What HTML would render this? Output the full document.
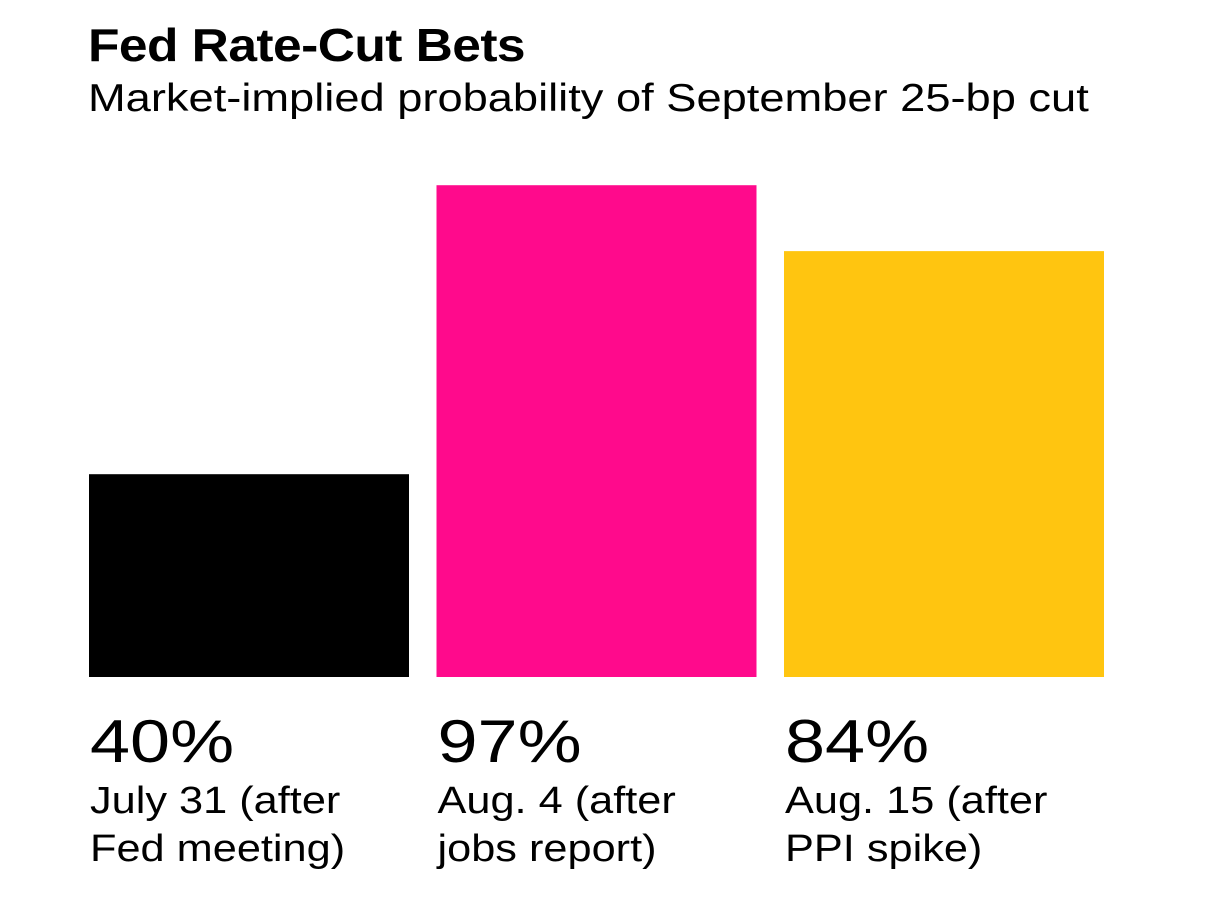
<!DOCTYPE html>
<html><head><meta charset="utf-8"><style>
html,body{margin:0;padding:0;background:#fff;}
body{width:1206px;height:913px;position:relative;overflow:hidden;font-family:"Liberation Sans",Arial,sans-serif;color:#000;}
.t{position:absolute;white-space:nowrap;transform-origin:0 0;}
</style></head><body>
<div class="t" style="left:88px;top:18px;font-size:46px;font-weight:bold;letter-spacing:-0.5px;transform:scaleX(1.12);">Fed Rate-Cut Bets</div>
<div class="t" style="left:88px;top:77px;font-size:39px;transform:scaleX(1.16);">Market-implied probability of September 25-bp cut</div>
<svg id="chart" width="1206" height="913" style="position:absolute;left:0;top:0;"></svg>
<script>
const categories1=["July 31 (after","Aug. 4 (after","Aug. 15 (after"];
const categories2=["Fed meeting)","jobs report)","PPI spike)"];
const values=[40,97,84];
const colors=["#000000","#FF0A8C","#FFC510"];
const svg=document.getElementById('chart');
const NS="http://www.w3.org/2000/svg";
const baseY=677, scaleH=507, x0=89, barW=320, step=347.5;
function y(v){return baseY-v/100*scaleH;}
function x(i){return x0+i*step;}
values.forEach((v,i)=>{
  const r=document.createElementNS(NS,'rect');
  r.setAttribute('x',x(i));r.setAttribute('y',y(v));
  r.setAttribute('width',barW);r.setAttribute('height',baseY-y(v));
  r.setAttribute('fill',colors[i]);
  
  
  svg.appendChild(r);
  const mk=(txt,yy,fs,sx,name)=>{
    const t=document.createElementNS(NS,'text');
    const tx=x(i)+1;
    t.setAttribute('x',0);t.setAttribute('y',0);
    t.setAttribute('transform','translate('+tx+','+yy+') scale('+sx+',1)');
    t.setAttribute('font-size',fs);
    t.setAttribute('font-family','"Liberation Sans",Arial,sans-serif');
    t.textContent=txt;
    
    
    svg.appendChild(t);
  };
  mk(v+'%',762,60,1.2,'value-label-'+(i+1));
  mk(categories1[i],813,38,1.14,'category-label-'+(i+1)+'-line1');
  mk(categories2[i],861,38,1.14,'category-label-'+(i+1)+'-line2');
});
</script>
</body></html>
